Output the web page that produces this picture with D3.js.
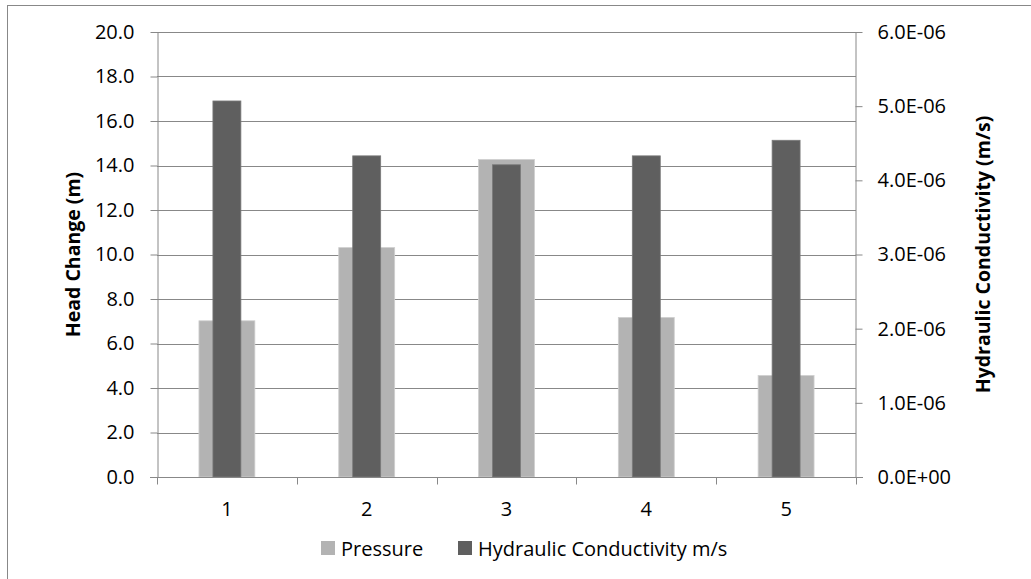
<!DOCTYPE html>
<html>
<head>
<meta charset="utf-8">
<script src="https://cdn.jsdelivr.net/npm/d3@7"></script>
<style>
  body { margin: 0; background: #fff; }
  text { font-family: "Open Sans", "Noto Sans", sans-serif; fill: #000; }
</style>
</head>
<body>
<div id="chart"></div>
<script>
// data
const categories = ['1', '2', '3', '4', '5'];
const pressure = [7.02, 10.31, 14.27, 7.17, 4.56];
const conductivity = [5.07e-6, 4.33e-6, 4.21e-6, 4.33e-6, 4.54e-6];
const leftTicks = [0, 2, 4, 6, 8, 10, 12, 14, 16, 18, 20];
const rightTicks = [0, 1e-6, 2e-6, 3e-6, 4e-6, 5e-6, 6e-6];
const seriesNames = ['Pressure', 'Hydraulic Conductivity m/s'];

const W = 1031, H = 579;
const margin = {top: 32, right: 175, bottom: 102, left: 157};
const width = W - margin.left - margin.right,
      height = H - margin.top - margin.bottom;

const lightGray = '#b3b3b3', darkGray = '#5f5f5f', axisGray = '#888888';
const fs = '20px';

const svg = d3.select('#chart').append('svg')
    .attr('width', W)
    .attr('height', H);

// outer chart border (runs off the bottom/right edge)
svg.append('rect')
    .attr('x', 7.5).attr('y', 5.5)
    .attr('width', W).attr('height', H)
    .attr('fill', 'none')
    .attr('stroke', axisGray);

const g = svg.append('g')
    .attr('transform', `translate(${margin.left},${margin.top})`);

const x = d3.scaleBand()
    .domain(categories)
    .range([0, width]);

const yLeft = d3.scaleLinear().domain([0, 20]).range([height, 0]);
const yRight = d3.scaleLinear().domain([0, 6e-6]).range([height, 0]);

// gridlines
g.append('g')
    .selectAll('line')
    .data(leftTicks.filter(d => d > 0))
    .enter().append('line')
    .attr('x1', 0).attr('x2', width)
    .attr('y1', d => Math.round(yLeft(d)) + 0.5)
    .attr('y2', d => Math.round(yLeft(d)) + 0.5)
    .attr('stroke', axisGray)
    .attr('stroke-width', 1);

// pressure bars (wide, light)
const wideW = x.bandwidth() * 0.4;
g.append('g')
    .selectAll('rect')
    .data(pressure)
    .enter().append('rect')
    .attr('x', (d, i) => x(categories[i]) + x.bandwidth() / 2 - wideW / 2)
    .attr('width', wideW)
    .attr('y', d => yLeft(d))
    .attr('height', d => height - yLeft(d))
    .attr('fill', lightGray)
    .attr('stroke', '#cfcfcf')
    .attr('stroke-width', 0.8);

// conductivity bars (narrow, dark) on the secondary axis
const narrowW = x.bandwidth() * 0.2;
g.append('g')
    .selectAll('rect')
    .data(conductivity)
    .enter().append('rect')
    .attr('x', (d, i) => x(categories[i]) + x.bandwidth() / 2 - narrowW / 2)
    .attr('width', narrowW)
    .attr('y', d => yRight(d))
    .attr('height', d => height - yRight(d))
    .attr('fill', darkGray)
    .attr('stroke', '#7a7a7a')
    .attr('stroke-width', 0.8);

// left axis
const leftAxis = g.append('g')
    .attr('transform', 'translate(0.5,0)')
    .call(d3.axisLeft(yLeft).tickValues(leftTicks).tickFormat(d3.format('.1f')).tickSizeInner(7).tickSizeOuter(0).tickPadding(16));

// right axis
const rightAxis = g.append('g')
    .attr('transform', `translate(${width - 0.5},0)`)
    .call(d3.axisRight(yRight).tickValues(rightTicks)
        .tickFormat(d => d3.format('.1e')(d).replace(/e([+-])(\d)$/, 'E$10$2').replace('e', 'E'))
        .tickSizeInner(7).tickSizeOuter(0).tickPadding(15));

// bottom axis with ticks between categories
const bottom = g.append('g')
    .attr('transform', `translate(0,${height + 0.5})`);
bottom.append('line')
    .attr('x1', -7).attr('x2', width + 7)
    .attr('stroke', axisGray);
bottom.selectAll('.sep')
    .data(d3.range(categories.length + 1))
    .enter().append('line')
    .attr('class', 'sep')
    .attr('x1', i => Math.round(i * x.step()) + 0.5)
    .attr('x2', i => Math.round(i * x.step()) + 0.5)
    .attr('y1', 0).attr('y2', 7)
    .attr('stroke', axisGray);
bottom.selectAll('.lbl')
    .data(categories)
    .enter().append('text')
    .attr('class', 'lbl')
    .attr('x', d => x(d) + x.bandwidth() / 2)
    .attr('y', 31)
    .attr('text-anchor', 'middle')
    .attr('dominant-baseline', 'central')
    .style('font-size', fs)
    .text(d => d);

[leftAxis, rightAxis].forEach(a => {
    a.select('.domain').attr('stroke', axisGray);
    a.selectAll('.tick line').attr('stroke', axisGray);
    a.selectAll('.tick text').style('font-size', fs).attr('fill', '#000');
});

// axis titles
svg.append('text')
    .attr('transform', `translate(72,${margin.top + height / 2}) rotate(-90)`)
    .attr('text-anchor', 'middle')
    .attr('dominant-baseline', 'central')
    .style('font-size', '19.5px')
    .style('font-weight', 'bold')
    .text('Head Change (m)');

svg.append('text')
    .attr('transform', `translate(982,${margin.top + height / 2}) rotate(-90)`)
    .attr('text-anchor', 'middle')
    .attr('dominant-baseline', 'central')
    .style('font-size', '19.5px')
    .style('font-weight', 'bold')
    .text('Hydraulic Conductivity (m/s)');

// legend
const legendX = [321, 458];
const legend = svg.append('g');
seriesNames.forEach((name, i) => {
    legend.append('rect')
        .attr('x', legendX[i]).attr('y', 541)
        .attr('width', 14).attr('height', 14)
        .attr('fill', i === 0 ? lightGray : darkGray);
    legend.append('text')
        .attr('x', legendX[i] + 20).attr('y', 548)
        .attr('dominant-baseline', 'central')
        .style('font-size', '20px')
        .text(name);
});
</script>
</body>
</html>
